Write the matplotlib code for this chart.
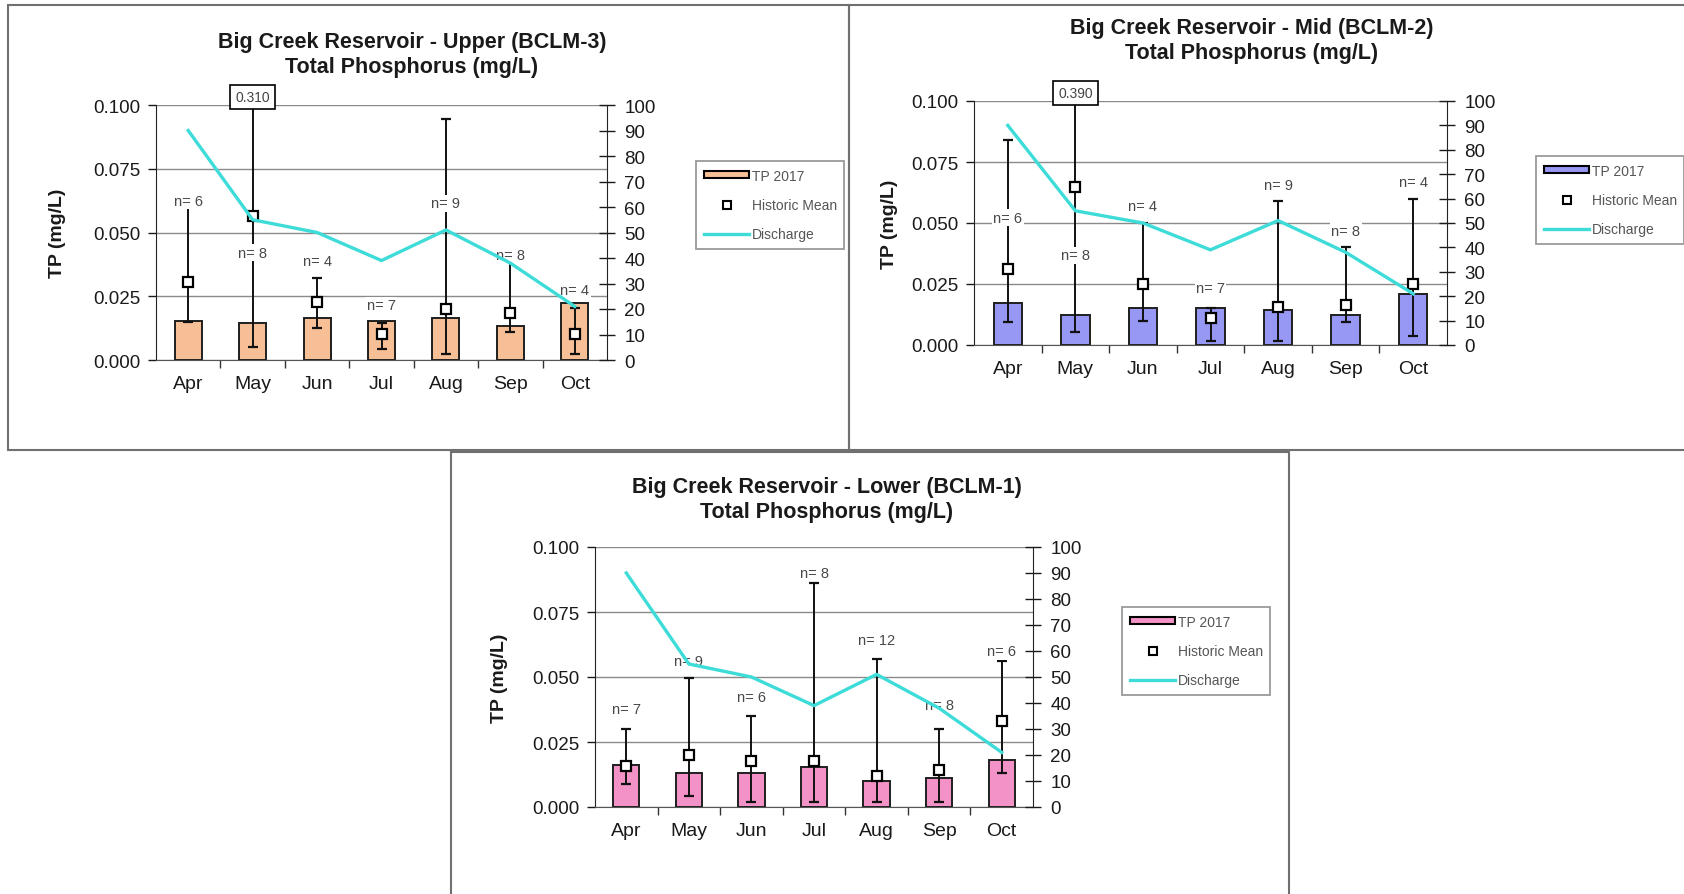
import numpy as np
import matplotlib.pyplot as plt
from matplotlib.patches import Rectangle, Patch
from matplotlib.lines import Line2D

plt.rcParams['font.family'] = ['Liberation Sans', 'DejaVu Sans']

W, H = 1684, 895

months = ['Apr', 'May', 'Jun', 'Jul', 'Aug', 'Sep', 'Oct']

# discharge on the right axis (same for every site)
discharge = [90, 55, 50, 39, 51, 38, 21]

# Upper (BCLM-3)
upper_tp = [0.0153, 0.0144, 0.0164, 0.0153, 0.0164, 0.0134, 0.0223]
upper_mean = [0.0306, 0.0563, 0.0228, 0.0103, 0.0199, 0.0183, 0.0103]
upper_low = [0.0150, 0.0052, 0.0124, 0.0042, 0.0022, 0.0111, 0.0022]
upper_high = [0.0605, 0.310, 0.0323, 0.0147, 0.0945, 0.0404, 0.0205]
upper_n = [6, 8, 4, 7, 9, 8, 4]

# Mid (BCLM-2)
mid_tp = [0.0172, 0.0124, 0.0150, 0.0150, 0.0143, 0.0124, 0.0211]
mid_mean = [0.0311, 0.0648, 0.0250, 0.0109, 0.0154, 0.0164, 0.0250]
mid_low = [0.0093, 0.0055, 0.0100, 0.0018, 0.0018, 0.0093, 0.0038]
mid_high = [0.0840, 0.390, 0.0499, 0.0150, 0.0589, 0.0400, 0.0598]
mid_n = [6, 8, 4, 7, 9, 8, 4]

# Lower (BCLM-1)
lower_tp = [0.0160, 0.0132, 0.0132, 0.0154, 0.0100, 0.0113, 0.0182]
lower_mean = [0.0156, 0.0199, 0.0177, 0.0177, 0.0118, 0.0144, 0.0331]
lower_low = [0.0090, 0.0042, 0.0019, 0.0019, 0.0019, 0.0019, 0.0132]
lower_high = [0.0301, 0.0497, 0.0350, 0.0863, 0.0571, 0.0301, 0.0562]
lower_n = [7, 9, 6, 8, 12, 8, 6]

# where the n= labels sit (TP units)
upper_n_y = [0.0625, 0.0420, 0.0390, 0.0215, 0.0615, 0.0410, 0.0275]
mid_n_y = [0.0522, 0.0368, 0.0568, 0.0232, 0.0655, 0.0468, 0.0666]
lower_n_y = [0.0378, 0.0562, 0.0423, 0.0900, 0.0641, 0.0391, 0.0599]

CYAN = '#3EDCD8'
TXT = '#1a1a1a'


def px_rect(left, top, right, bottom):
    return [left / W, 1 - bottom / H, (right - left) / W, (bottom - top) / H]


def draw_panel(fig, axbox, title, title_xy, ylab_x, leg_xy, color,
               tp, mean, low, high, n, n_y):
    ax = fig.add_axes(px_rect(*axbox))
    x = np.arange(len(months))
    ax.set_axisbelow(True)
    ax.bar(x, tp, width=0.42, color=color, edgecolor='#1f1f1f', linewidth=1.4, zorder=2)

    mean = np.array(mean)
    err = [mean - np.array(low), np.array(high) - mean]
    ax.errorbar(x, mean, yerr=err, fmt='s', ms=7.5, mfc='white', mec='black', mew=1.6,
                ecolor='#111111', elinewidth=1.4, capsize=3.5, capthick=1.4, zorder=4)

    for i in range(len(months)):
        ax.text(x[i], n_y[i], f'n= {n[i]}', ha='center', va='center', fontsize=10.5,
                color='#484848', zorder=5,
                bbox=dict(facecolor='white', edgecolor='none', pad=1.0))

    # callout for the whisker that runs off the top
    for i in range(len(months)):
        if high[i] > 0.1:
            ax.annotate(f'{high[i]:.3f}', xy=(x[i], 0.1), xytext=(0, 6),
                        textcoords='offset points', ha='center', va='center',
                        fontsize=10, color='#444444', zorder=6, annotation_clip=False,
                        bbox=dict(facecolor='white', edgecolor='black', lw=1.2, pad=3.5))

    ax.set_xlim(-0.5, len(months) - 0.5)
    ax.set_ylim(0, 0.1)
    yt = [0, 0.025, 0.05, 0.075, 0.1]
    ax.set_yticks(yt)
    ax.set_yticklabels([f'{v:.3f}' for v in yt])
    ax.set_xticks(x)
    ax.set_xticklabels(months)
    ax.set_xticks(np.arange(0.5, len(months) - 1, 1), minor=True)
    ax.tick_params(axis='x', which='major', length=0, pad=11, labelsize=14, colors=TXT)
    ax.tick_params(axis='x', which='minor', length=6, direction='out', width=1, color='#333333')
    ax.tick_params(axis='y', length=6, direction='out', width=1, pad=5, labelsize=13.5, colors=TXT)
    ax.yaxis.grid(True, color='#8a8a8a', linewidth=1.0)
    for s in ['top', 'right']:
        ax.spines[s].set_visible(False)
    ax.spines['left'].set_color('#222222')
    ax.spines['bottom'].set_color('#555555')

    ax2 = ax.twinx()
    ax2.plot(x, discharge, color=CYAN, linewidth=2.4, zorder=3)
    ax2.set_ylim(0, 100)
    ax2.set_yticks(range(0, 101, 10))
    ax2.tick_params(axis='y', direction='inout', length=11, width=1, pad=7,
                    labelsize=13.5, colors=TXT)
    for s in ['top', 'left', 'bottom']:
        ax2.spines[s].set_visible(False)
    ax2.spines['right'].set_color('#222222')

    fig.text(title_xy[0] / W, 1 - title_xy[1] / H, title, ha='center', va='center',
             fontsize=15.5, fontweight='bold', color=TXT, linespacing=1.2)
    top, bottom = axbox[1], axbox[3]
    fig.text(ylab_x / W, 1 - (top + bottom) / 2 / H, 'TP (mg/L)', rotation=90,
             ha='center', va='center', fontsize=14, fontweight='bold', color=TXT)

    handles = [Patch(facecolor=color, edgecolor='black', linewidth=1.5),
               Line2D([], [], marker='s', ls='none', mfc='white', mec='black', ms=6, mew=1.5),
               Line2D([], [], color=CYAN, linewidth=2.4)]
    leg = fig.legend(handles, ['TP 2017', 'Historic Mean', 'Discharge'],
                     loc='upper left', bbox_to_anchor=(leg_xy[0] / W, 1 - leg_xy[1] / H),
                     bbox_transform=fig.transFigure, fontsize=10, frameon=True,
                     fancybox=False, edgecolor='#808080', handlelength=3.3,
                     handleheight=0.45, labelspacing=1.1, borderpad=0.55,
                     handletextpad=0.15, borderaxespad=0)
    leg.get_frame().set_linewidth(1.3)
    for t in leg.get_texts():
        t.set_color('#555555')


fig = plt.figure(figsize=(W / 100, H / 100), dpi=100)

# panel frames
for (l, t, r, b) in [(8, 6, 849, 451), (849, 6, 1690, 451), (451, 453, 1289, 900)]:
    fig.add_artist(Rectangle((l / W, 1 - b / H), (r - l) / W, (b - t) / H,
                             transform=fig.transFigure, fill=False,
                             edgecolor='#707070', linewidth=1.5))

draw_panel(fig, (156, 106, 607, 361),
           'Big Creek Reservoir - Upper (BCLM-3)\nTotal Phosphorus (mg/L)',
           (412, 55), 57, (696, 162), '#F7BF95',
           upper_tp, upper_mean, upper_low, upper_high, upper_n, upper_n_y)

draw_panel(fig, (974, 102, 1447, 346),
           'Big Creek Reservoir - Mid (BCLM-2)\nTotal Phosphorus (mg/L)',
           (1252, 41), 890, (1536, 157), '#9797F4',
           mid_tp, mid_mean, mid_low, mid_high, mid_n, mid_n_y)

draw_panel(fig, (595, 548, 1033, 808),
           'Big Creek Reservoir - Lower (BCLM-1)\nTotal Phosphorus (mg/L)',
           (827, 500), 499, (1122, 608), '#F292C6',
           lower_tp, lower_mean, lower_low, lower_high, lower_n, lower_n_y)

fig.savefig('out.png', dpi=100, facecolor='white')
